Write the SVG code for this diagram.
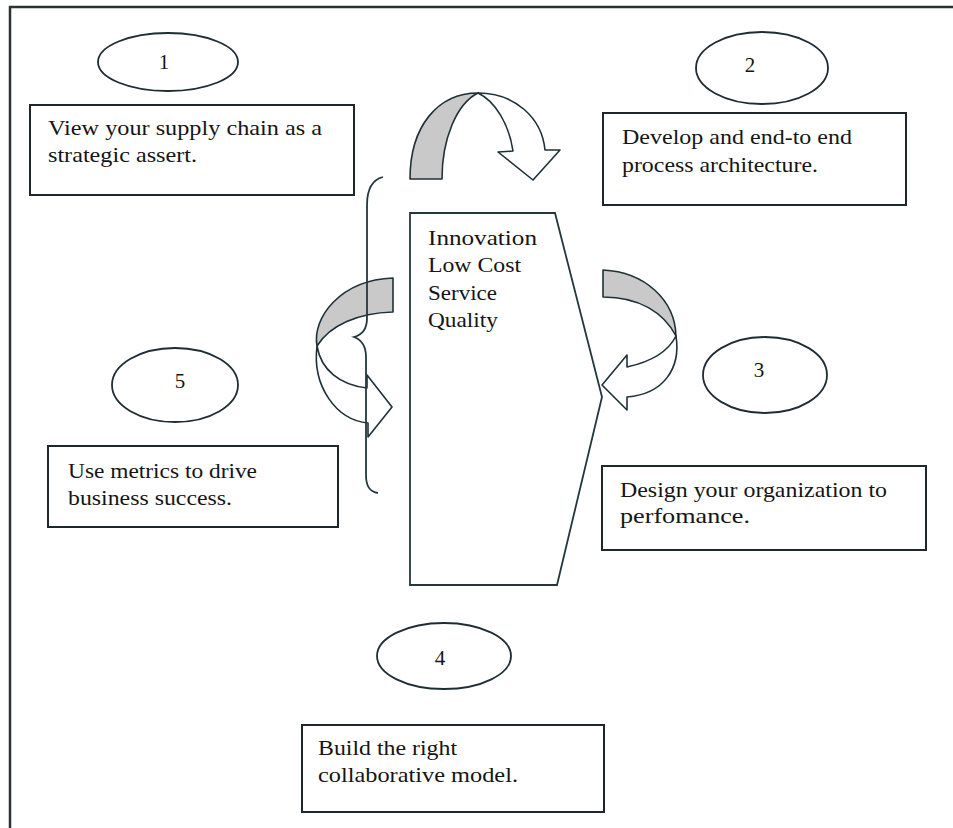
<svg xmlns="http://www.w3.org/2000/svg" width="953" height="828" viewBox="0 0 953 828">
  <style>
    .frame { fill: none; stroke: #2a3236; stroke-width: 2.5; }
    .box { fill: #ffffff; stroke: #1e272b; stroke-width: 2; }
    .oval { fill: #ffffff; stroke: #1e2c33; stroke-width: 1.8; }
    .core { fill: #ffffff; stroke: #24373e; stroke-width: 1.8; }
    .back { fill: #c9c9c9; stroke: #1f3138; stroke-width: 1.6; stroke-linejoin: round; }
    .front { fill: #ffffff; stroke: #1f3138; stroke-width: 1.6; stroke-linejoin: round; }
    .brace { fill: none; stroke: #24373e; stroke-width: 1.8; }
    .t { font-family: "Liberation Serif", "Times New Roman", serif; font-size: 22px; fill: #151515; }
    .n { font-family: "Liberation Serif", "Times New Roman", serif; font-size: 21px; fill: #151515; text-anchor: middle; }
  </style>

  <rect width="953" height="828" fill="#ffffff"/>
  <!-- outer frame, open to the right and bottom edges -->
  <rect class="frame" x="10" y="7" width="960" height="840"/>

  <!-- central strategy shape -->
  <g id="core">
    <path class="core" d="M410,213 L555,213 L602,397 L557,585 L410,585 Z"/>
    <text class="t" x="428" y="245" textLength="109" lengthAdjust="spacingAndGlyphs">Innovation</text>
    <text class="t" x="428" y="272" textLength="93" lengthAdjust="spacingAndGlyphs">Low Cost</text>
    <text class="t" x="428" y="300" textLength="69" lengthAdjust="spacingAndGlyphs">Service</text>
    <text class="t" x="428" y="327" textLength="70" lengthAdjust="spacingAndGlyphs">Quality</text>
  </g>

  <g id="connectors">
    <!-- top curved arrow -->
    <path class="back" d="M410,179 C410,126 438,93 478,93 C456,104 442,140 442,179 Z"/>
    <path class="front" d="M478,93 C515,93 542,118 545,150 L560,150 L533,180 L498,152 L513,151 C509,124 495,101 478,93 Z"/>

    <!-- right curved arrow -->
    <path class="back" d="M603,270 C645,272 675,300 676,336 C664,313 640,297 603,297 Z"/>
    <path class="front" d="M676,336 C681,368 664,394 627,397 L627,410 L602,385 L627,355 L627,367 C650,362 668,352 676,336 Z"/>

    <!-- left curved arrow -->
    <path class="back" d="M393,278 L393,312 C358,313 330,325 317,346 C312,318 340,280 393,278 Z"/>
    <path class="front" d="M317,346 C312,386 336,420 368,423 L368,437 L392,407 L367,375 L367,388 C340,385 321,370 317,346 Z"/>

    <!-- brace -->
    <path class="brace" d="M383,177 C371,180 367,190 367,205 L367,318 C367,330 362,335 354,337 C362,340 366,346 366,357 L366,475 C366,487 370,492 378,493"/>
  </g>

  <g id="step1">
    <ellipse class="oval" cx="168" cy="62" rx="70" ry="29"/>
    <text class="n" x="164" y="69">1</text>
    <rect class="box" x="30" y="105" width="324" height="90"/>
    <text class="t" x="48" y="135" textLength="274" lengthAdjust="spacingAndGlyphs">View your supply chain as a</text>
    <text class="t" x="48" y="162" textLength="149" lengthAdjust="spacingAndGlyphs">strategic assert.</text>
  </g>

  <g id="step2">
    <ellipse class="oval" cx="762" cy="68" rx="66" ry="36"/>
    <text class="n" x="750" y="72">2</text>
    <rect class="box" x="603" y="113" width="303" height="92"/>
    <text class="t" x="622" y="144" textLength="230" lengthAdjust="spacingAndGlyphs">Develop and end-to end</text>
    <text class="t" x="622" y="172" textLength="196" lengthAdjust="spacingAndGlyphs">process architecture.</text>
  </g>

  <g id="step3">
    <ellipse class="oval" cx="765" cy="375" rx="62" ry="38"/>
    <text class="n" x="759" y="377">3</text>
    <rect class="box" x="602" y="466" width="324" height="84"/>
    <text class="t" x="620" y="497" textLength="267" lengthAdjust="spacingAndGlyphs">Design your organization to</text>
    <text class="t" x="620" y="523" textLength="130" lengthAdjust="spacingAndGlyphs">perfomance.</text>
  </g>

  <g id="step4">
    <ellipse class="oval" cx="444" cy="656" rx="67" ry="33"/>
    <text class="n" x="440" y="665">4</text>
    <rect class="box" x="302" y="725" width="302" height="87"/>
    <text class="t" x="318" y="755" textLength="139" lengthAdjust="spacingAndGlyphs">Build the right</text>
    <text class="t" x="318" y="782" textLength="200" lengthAdjust="spacingAndGlyphs">collaborative model.</text>
  </g>

  <g id="step5">
    <ellipse class="oval" cx="175" cy="385" rx="63" ry="37"/>
    <text class="n" x="180" y="388">5</text>
    <rect class="box" x="48" y="446" width="290" height="81"/>
    <text class="t" x="68" y="478" textLength="189" lengthAdjust="spacingAndGlyphs">Use metrics to drive</text>
    <text class="t" x="68" y="505" textLength="164" lengthAdjust="spacingAndGlyphs">business success.</text>
  </g>
</svg>
